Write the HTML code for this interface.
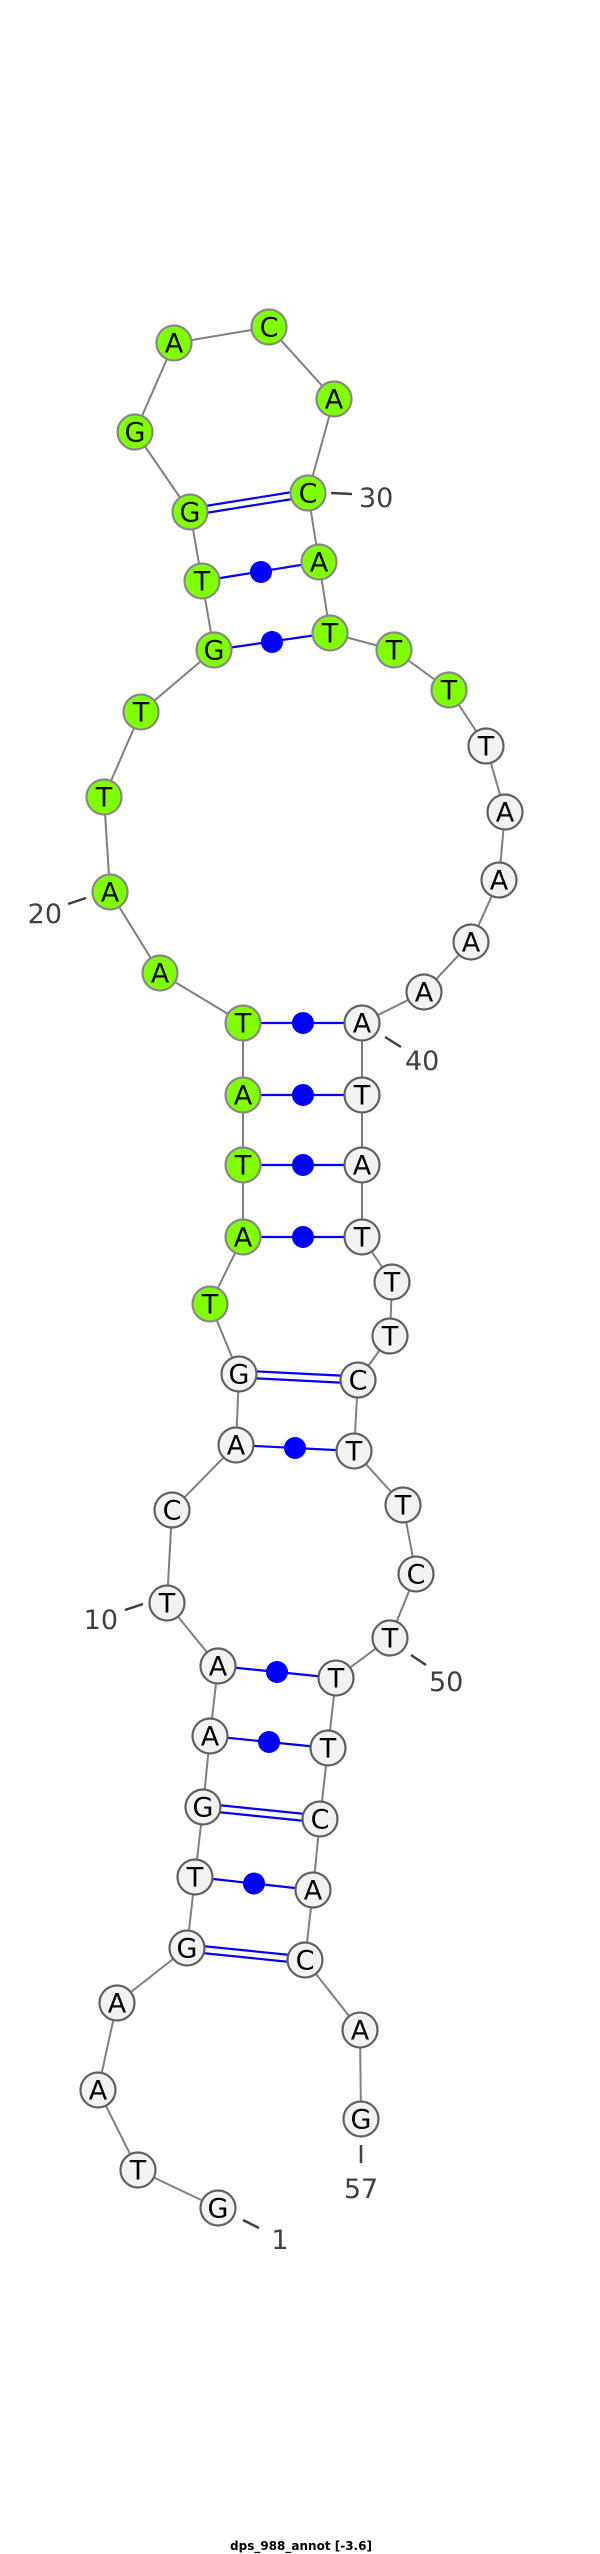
<!DOCTYPE html>
<html><head><meta charset="utf-8"><style>
html,body{margin:0;padding:0;background:#fff}
svg{display:block}
.bb{stroke:#808080;stroke-width:2;fill:none}
.bp{stroke:#0000ff;stroke-width:2.2;fill:none}
.dot{fill:#0000ff}
.g circle{fill:#80ff00;stroke:#888;stroke-width:2.2}
.w circle{fill:#f2f2f2;stroke:#606060;stroke-width:2.2}
.n text{font-family:"DejaVu Sans","Liberation Sans",sans-serif;font-size:27px;fill:#000;text-anchor:middle;dominant-baseline:central}
.lab{font-family:"DejaVu Sans","Liberation Sans",sans-serif;font-size:27px;fill:#404040}
.tk{stroke:#404040;stroke-width:2.5}
</style></head><body>
<svg width="600" height="2554" viewBox="0 0 600 2554" xmlns="http://www.w3.org/2000/svg">
<polyline class="bb" points="218,2208 138,2170 98,2090 117,2003 187,1948 195,1877 203,1807 210,1736 218,1666 167,1603 172,1510 236,1445 239,1374 210,1304 243,1237 243,1165 243,1095 243,1023 160,973 110,892 104,797 141,712 214,650 202,581 190,512 135,432 174,343 269,327 334,399 308,493 319,562 330,633 394,650 449,690 486,746 505,812 499,880 471,942 424,992 362,1023 362,1095 362,1165 362,1237 392,1282 390,1336 358,1380 354,1451 403,1505 416,1574 390,1638 336,1678 328,1748 320,1819 313,1890 305,1960 360,2030 361,2119"/>
<line class="bp" x1="187" y1="1944.5" x2="305" y2="1956.5"/><line class="bp" x1="187" y1="1951.5" x2="305" y2="1963.5"/>
<line class="bp" x1="203" y1="1803.5" x2="320" y2="1815.5"/><line class="bp" x1="203" y1="1810.5" x2="320" y2="1822.5"/>
<line class="bp" x1="239" y1="1370.5" x2="358" y2="1376.5"/><line class="bp" x1="239" y1="1377.5" x2="358" y2="1383.5"/>
<line class="bp" x1="190" y1="508.5" x2="308" y2="489.5"/><line class="bp" x1="190" y1="515.5" x2="308" y2="496.5"/>
<line class="bp" x1="195" y1="1877" x2="313" y2="1890"/><circle class="dot" cx="254" cy="1883.5" r="11"/>
<line class="bp" x1="210" y1="1736" x2="328" y2="1748"/><circle class="dot" cx="269" cy="1742" r="11"/>
<line class="bp" x1="218" y1="1666" x2="336" y2="1678"/><circle class="dot" cx="277" cy="1672" r="11"/>
<line class="bp" x1="236" y1="1445" x2="354" y2="1451"/><circle class="dot" cx="295" cy="1448" r="11"/>
<line class="bp" x1="243" y1="1237" x2="362" y2="1237"/><circle class="dot" cx="303" cy="1237" r="11"/>
<line class="bp" x1="243" y1="1165" x2="362" y2="1165"/><circle class="dot" cx="303" cy="1165" r="11"/>
<line class="bp" x1="243" y1="1095" x2="362" y2="1095"/><circle class="dot" cx="303" cy="1095" r="11"/>
<line class="bp" x1="243" y1="1023" x2="362" y2="1023"/><circle class="dot" cx="303" cy="1023" r="11"/>
<line class="bp" x1="214" y1="650" x2="330" y2="633"/><circle class="dot" cx="272" cy="642" r="11"/>
<line class="bp" x1="202" y1="581" x2="319" y2="562"/><circle class="dot" cx="261" cy="572" r="11"/>
<g class="n w">
<circle cx="218" cy="2208" r="17.5"/><text x="218" y="2209">G</text>
<circle cx="138" cy="2170" r="17.5"/><text x="138" y="2171">T</text>
<circle cx="98" cy="2090" r="17.5"/><text x="98" y="2091">A</text>
<circle cx="117" cy="2003" r="17.5"/><text x="117" y="2004">A</text>
<circle cx="187" cy="1948" r="17.5"/><text x="187" y="1949">G</text>
<circle cx="195" cy="1877" r="17.5"/><text x="195" y="1878">T</text>
<circle cx="203" cy="1807" r="17.5"/><text x="203" y="1808">G</text>
<circle cx="210" cy="1736" r="17.5"/><text x="210" y="1737">A</text>
<circle cx="218" cy="1666" r="17.5"/><text x="218" y="1667">A</text>
<circle cx="167" cy="1603" r="17.5"/><text x="167" y="1604">T</text>
<circle cx="172" cy="1510" r="17.5"/><text x="172" y="1511">C</text>
<circle cx="236" cy="1445" r="17.5"/><text x="236" y="1446">A</text>
<circle cx="239" cy="1374" r="17.5"/><text x="239" y="1375">G</text>
<circle cx="486" cy="746" r="17.5"/><text x="486" y="747">T</text>
<circle cx="505" cy="812" r="17.5"/><text x="505" y="813">A</text>
<circle cx="499" cy="880" r="17.5"/><text x="499" y="881">A</text>
<circle cx="471" cy="942" r="17.5"/><text x="471" y="943">A</text>
<circle cx="424" cy="992" r="17.5"/><text x="424" y="993">A</text>
<circle cx="362" cy="1023" r="17.5"/><text x="362" y="1024">A</text>
<circle cx="362" cy="1095" r="17.5"/><text x="362" y="1096">T</text>
<circle cx="362" cy="1165" r="17.5"/><text x="362" y="1166">A</text>
<circle cx="362" cy="1237" r="17.5"/><text x="362" y="1238">T</text>
<circle cx="392" cy="1282" r="17.5"/><text x="392" y="1283">T</text>
<circle cx="390" cy="1336" r="17.5"/><text x="390" y="1337">T</text>
<circle cx="358" cy="1380" r="17.5"/><text x="358" y="1381">C</text>
<circle cx="354" cy="1451" r="17.5"/><text x="354" y="1452">T</text>
<circle cx="403" cy="1505" r="17.5"/><text x="403" y="1506">T</text>
<circle cx="416" cy="1574" r="17.5"/><text x="416" y="1575">C</text>
<circle cx="390" cy="1638" r="17.5"/><text x="390" y="1639">T</text>
<circle cx="336" cy="1678" r="17.5"/><text x="336" y="1679">T</text>
<circle cx="328" cy="1748" r="17.5"/><text x="328" y="1749">T</text>
<circle cx="320" cy="1819" r="17.5"/><text x="320" y="1820">C</text>
<circle cx="313" cy="1890" r="17.5"/><text x="313" y="1891">A</text>
<circle cx="305" cy="1960" r="17.5"/><text x="305" y="1961">C</text>
<circle cx="360" cy="2030" r="17.5"/><text x="360" y="2031">A</text>
<circle cx="361" cy="2119" r="17.5"/><text x="361" y="2120">G</text>
</g>
<g class="n g">
<circle cx="210" cy="1304" r="17.5"/><text x="210" y="1305">T</text>
<circle cx="243" cy="1237" r="17.5"/><text x="243" y="1238">A</text>
<circle cx="243" cy="1165" r="17.5"/><text x="243" y="1166">T</text>
<circle cx="243" cy="1095" r="17.5"/><text x="243" y="1096">A</text>
<circle cx="243" cy="1023" r="17.5"/><text x="243" y="1024">T</text>
<circle cx="160" cy="973" r="17.5"/><text x="160" y="974">A</text>
<circle cx="110" cy="892" r="17.5"/><text x="110" y="893">A</text>
<circle cx="104" cy="797" r="17.5"/><text x="104" y="798">T</text>
<circle cx="141" cy="712" r="17.5"/><text x="141" y="713">T</text>
<circle cx="214" cy="650" r="17.5"/><text x="214" y="651">G</text>
<circle cx="202" cy="581" r="17.5"/><text x="202" y="582">T</text>
<circle cx="190" cy="512" r="17.5"/><text x="190" y="513">G</text>
<circle cx="135" cy="432" r="17.5"/><text x="135" y="433">G</text>
<circle cx="174" cy="343" r="17.5"/><text x="174" y="344">A</text>
<circle cx="269" cy="327" r="17.5"/><text x="269" y="328">C</text>
<circle cx="334" cy="399" r="17.5"/><text x="334" y="400">A</text>
<circle cx="308" cy="493" r="17.5"/><text x="308" y="494">C</text>
<circle cx="319" cy="562" r="17.5"/><text x="319" y="563">A</text>
<circle cx="330" cy="633" r="17.5"/><text x="330" y="634">T</text>
<circle cx="394" cy="650" r="17.5"/><text x="394" y="651">T</text>
<circle cx="449" cy="690" r="17.5"/><text x="449" y="691">T</text>
</g>
<line class="tk" x1="243" y1="2220" x2="259" y2="2228"/><text class="lab" x="280" y="2249" text-anchor="middle">1</text>
<line class="tk" x1="125" y1="1610" x2="143" y2="1604"/><text class="lab" x="118" y="1629" text-anchor="end">10</text>
<line class="tk" x1="68" y1="904" x2="86" y2="898"/><text class="lab" x="62" y="923" text-anchor="end">20</text>
<line class="tk" x1="331" y1="493" x2="352" y2="494"/><text class="lab" x="359" y="507">30</text>
<line class="tk" x1="385" y1="1037" x2="401" y2="1047"/><text class="lab" x="405" y="1070">40</text>
<line class="tk" x1="411" y1="1655" x2="426" y2="1665"/><text class="lab" x="429" y="1691">50</text>
<line class="tk" x1="361" y1="2145" x2="361" y2="2163"/><text class="lab" x="361" y="2198" text-anchor="middle">57</text>
<text x="301" y="2550" text-anchor="middle" style="font-family:'DejaVu Sans','Liberation Sans',sans-serif;font-size:12px;font-weight:bold;fill:#000">dps_988_annot [-3.6]</text>
</svg>
</body></html>
